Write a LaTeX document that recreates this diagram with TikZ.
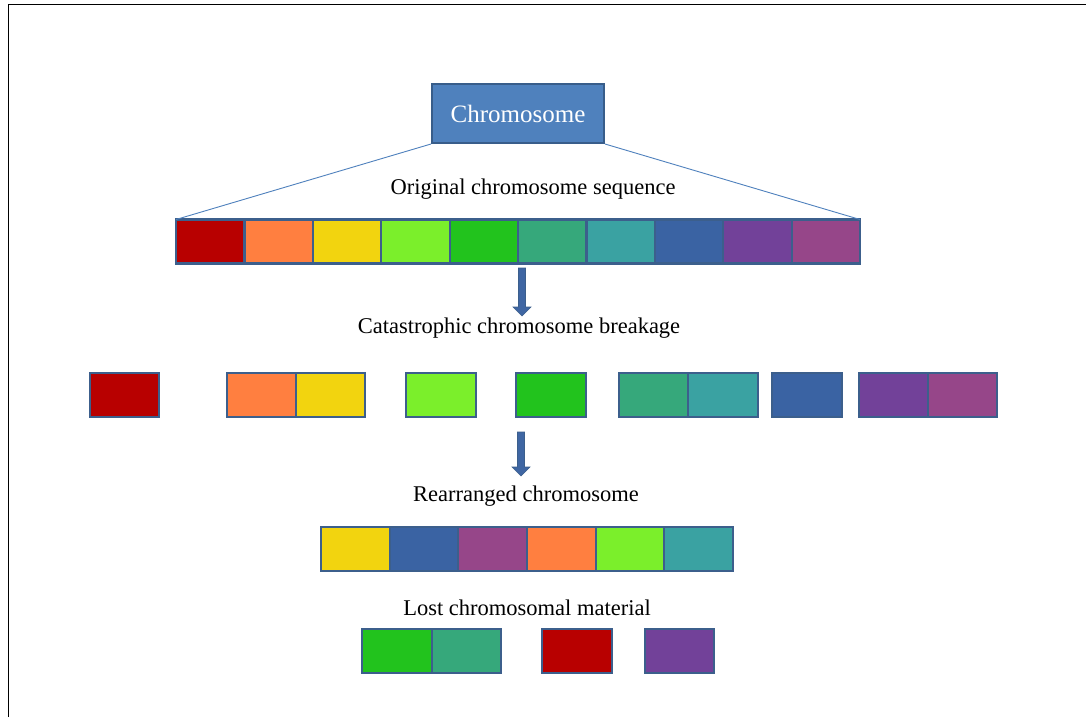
\documentclass[tikz,border=0pt]{standalone}
\usepackage{fontspec}
\setmainfont{Liberation Serif}
\usetikzlibrary{calc}
\definecolor{cRed}{HTML}{B80000}
\definecolor{cOrange}{HTML}{FF7F40}
\definecolor{cYellow}{HTML}{F2D40F}
\definecolor{cLgreen}{HTML}{7BEF2B}
\definecolor{cGreen}{HTML}{22C31D}
\definecolor{cTgreen}{HTML}{36A87B}
\definecolor{cTeal}{HTML}{3AA2A2}
\definecolor{cBlue}{HTML}{3A63A3}
\definecolor{cPurple}{HTML}{724199}
\definecolor{cMagenta}{HTML}{964689}
\definecolor{cellborder}{HTML}{3C5F8C}
\definecolor{boxfill}{HTML}{4F81BD}
\definecolor{boxborder}{HTML}{385D8A}
\definecolor{arrowfill}{HTML}{3F66A3}
\tikzset{
  cell/.style={draw=cellborder, line width=2.2pt, minimum width=#1, minimum height=44pt, inner sep=0pt, outer sep=0pt},
  cell/.default=68.4pt,
  label/.style={font=\fontsize{22.5}{26}\selectfont, text=black, inner sep=0pt},
  chrom/.style={draw=boxborder, fill=boxfill, line width=2pt, minimum width=172pt, minimum height=59pt, text=white, font=\fontsize{25}{30}\selectfont, inner sep=0pt},
  fan/.style={draw=boxfill, line width=0.9pt},
  blockarrow/.style={fill=arrowfill, draw=cellborder, line width=0.6pt}
}
\begin{document}
\begin{tikzpicture}[x=1pt,y=-1pt]
\useasboundingbox (0,0) rectangle (1086,717);
\fill[white] (0,0) rectangle (1086,717);
% frame
\draw[line width=1.6pt, black] (8.5,717) -- (8.5,4.5) -- (1086,4.5);

% chromosome box
\node[chrom] (chrom) at (518,113.5) {Chromosome};

% original sequence
\node[label] (lorig) at (533,189) {Original chromosome sequence};
\foreach \c [count=\i from 0] in {cRed,cOrange,cYellow,cLgreen,cGreen,cTgreen,cTeal,cBlue,cPurple,cMagenta}{
  \node[cell, fill=\c] (o\i) at ({176+34.2+68.4*\i},241.5) {};
}
\draw[fan] (chrom.south west) -- (o0.north west);
\draw[fan] (chrom.south east) -- (o9.north east);

% arrow 1
\coordinate (a1s) at (522,268);
\coordinate (a1e) at (522,316);
\filldraw[blockarrow] ($(a1s)+(-3.5,0)$) -- ($(a1s)+(3.5,0)$) -- ($(a1e)+(3.5,-9)$) -- ($(a1e)+(9,-9)$) -- (a1e) -- ($(a1e)+(-9,-9)$) -- ($(a1e)+(-3.5,-9)$) -- cycle;

\node[label] (lcat) at (519,328) {Catastrophic chromosome breakage};

% broken pieces
\node[cell=69.5pt, fill=cRed] (b1) at (124.5,395) {};
\node[cell=69.5pt, fill=cOrange] (b2) at (261.5,395) {};
\node[cell=69.5pt, fill=cYellow] (b3) at (330.5,395) {};
\node[cell=69.5pt, fill=cLgreen] (b4) at (441,395) {};
\node[cell=69.5pt, fill=cGreen] (b5) at (551,395) {};
\node[cell=69.5pt, fill=cTgreen] (b6) at (653.5,395) {};
\node[cell=69.5pt, fill=cTeal] (b7) at (723,395) {};
\node[cell=69.5pt, fill=cBlue] (b8) at (807,395) {};
\node[cell=69.5pt, fill=cPurple] (b9) at (893.5,395) {};
\node[cell=69.5pt, fill=cMagenta] (b10) at (962.5,395) {};

% arrow 2
\coordinate (a2s) at (521,432);
\coordinate (a2e) at (521,476);
\filldraw[blockarrow] ($(a2s)+(-3.5,0)$) -- ($(a2s)+(3.5,0)$) -- ($(a2e)+(3.5,-9)$) -- ($(a2e)+(9,-9)$) -- (a2e) -- ($(a2e)+(-9,-9)$) -- ($(a2e)+(-3.5,-9)$) -- cycle;

\node[label] (lrea) at (526,496) {Rearranged chromosome};
\foreach \c [count=\i from 0] in {cYellow,cBlue,cMagenta,cOrange,cLgreen,cTeal}{
  \node[cell=68.67pt, fill=\c] (r\i) at ({321+34.33+68.67*\i},549) {};
}

\node[label] (llost) at (527,608) {Lost chromosomal material};
\node[cell=69.5pt, fill=cGreen] (l1) at (397,651) {};
\node[cell=69.5pt, fill=cTgreen] (l2) at (466.5,651) {};
\node[cell=69.5pt, fill=cRed] (l3) at (577,651) {};
\node[cell=69.5pt, fill=cPurple] (l4) at (679.5,651) {};
\end{tikzpicture}
\end{document}
